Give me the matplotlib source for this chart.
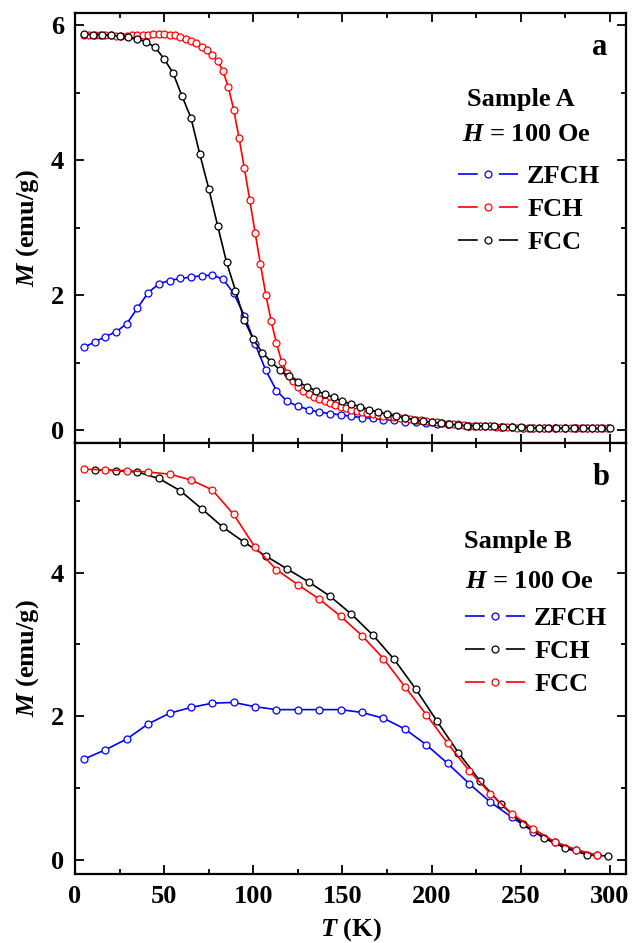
import matplotlib
matplotlib.use("Agg")
import matplotlib.pyplot as plt
from matplotlib.lines import Line2D
from matplotlib.ticker import MultipleLocator

plt.rcParams["font.family"] = "Liberation Serif"
plt.rcParams["font.weight"] = "bold"
plt.rcParams["mathtext.fontset"] = "custom"
plt.rcParams["mathtext.rm"] = "Liberation Serif:bold"
plt.rcParams["mathtext.it"] = "Liberation Serif:italic:bold"
plt.rcParams["lines.scale_dashes"] = False

# ---------------- data: panel a (Sample A) ----------------
T_a_zfch = [5, 11, 17, 23, 29, 35, 41, 47, 53, 59, 65, 71, 77, 83, 89, 95, 101,
            107, 113, 119, 125, 131, 137, 143, 149, 155, 161, 167, 173, 179, 185,
            191, 197, 203, 209, 215, 221, 227, 233, 239, 245, 251, 257, 263, 269,
            275, 281, 287, 293, 299]
M_a_zfch = [1.23, 1.31, 1.39, 1.46, 1.58, 1.81, 2.04, 2.17, 2.22, 2.25, 2.27, 2.29,
            2.30, 2.24, 2.03, 1.70, 1.28, 0.89, 0.59, 0.43, 0.36, 0.31, 0.27, 0.25,
            0.23, 0.21, 0.19, 0.18, 0.16, 0.15, 0.13, 0.12, 0.11, 0.10, 0.09, 0.08,
            0.07, 0.06, 0.06, 0.05, 0.05, 0.04, 0.04, 0.04, 0.04, 0.03, 0.03, 0.03,
            0.03, 0.03]

T_a_fch = [5, 8, 11, 14, 17, 20, 23, 26, 29, 32, 35, 38, 41, 44, 47, 50, 53, 56,
           59, 62, 65, 68, 71, 74, 77, 80, 83, 86, 89, 92, 95, 98, 101, 104, 107,
           110, 113, 116, 119, 122, 125, 128, 131, 134, 137, 140, 143, 146, 149,
           152, 155, 158, 161, 164, 167, 170, 173, 176, 179, 182, 185, 188, 191,
           194, 197, 200, 203, 206, 209, 212, 215, 218, 221, 224, 227, 230, 233,
           236, 239, 242, 245, 248, 251, 254, 257, 260, 263, 266, 269, 272, 275,
           278, 281, 284, 287, 290, 293, 296, 299]
M_a_fch = [5.86, 5.86, 5.86, 5.85, 5.85, 5.85, 5.84, 5.84, 5.84, 5.85, 5.85, 5.86,
           5.86, 5.87, 5.87, 5.87, 5.86, 5.85, 5.83, 5.80, 5.77, 5.73, 5.68, 5.63,
           5.56, 5.47, 5.32, 5.08, 4.75, 4.33, 3.88, 3.41, 2.93, 2.46, 2.01, 1.62,
           1.29, 1.01, 0.85, 0.73, 0.65, 0.59, 0.54, 0.50, 0.46, 0.43, 0.40, 0.37,
           0.35, 0.33, 0.31, 0.29, 0.27, 0.26, 0.24, 0.23, 0.22, 0.21, 0.20, 0.19,
           0.18, 0.17, 0.16, 0.15, 0.14, 0.13, 0.12, 0.11, 0.10, 0.09, 0.09, 0.08,
           0.07, 0.07, 0.06, 0.06, 0.06, 0.05, 0.05, 0.05, 0.05, 0.04, 0.04, 0.04,
           0.04, 0.04, 0.04, 0.03, 0.03, 0.03, 0.03, 0.03, 0.03, 0.03, 0.03, 0.03,
           0.03, 0.03, 0.03]

T_a_fcc = [5, 10, 15, 20, 25, 30, 35, 40, 45, 50, 55, 60, 65, 70, 75, 80, 85, 90,
           95, 100, 105, 110, 115, 120, 125, 130, 135, 140, 145, 150, 155, 160,
           165, 170, 175, 180, 185, 190, 195, 200, 205, 210, 215, 220, 225, 230,
           235, 240, 245, 250, 255, 260, 265, 270, 275, 280, 285, 290, 295, 300]
M_a_fcc = [5.87, 5.86, 5.86, 5.85, 5.84, 5.82, 5.80, 5.75, 5.67, 5.50, 5.29, 4.95,
           4.63, 4.09, 3.58, 3.03, 2.49, 2.07, 1.63, 1.35, 1.15, 1.02, 0.89, 0.80,
           0.72, 0.65, 0.59, 0.54, 0.49, 0.43, 0.39, 0.35, 0.31, 0.27, 0.24, 0.21,
           0.19, 0.16, 0.14, 0.12, 0.11, 0.09, 0.08, 0.07, 0.07, 0.06, 0.06, 0.05,
           0.05, 0.05, 0.04, 0.04, 0.04, 0.04, 0.03, 0.03, 0.03, 0.03, 0.03, 0.03]

# ---------------- data: panel b (Sample B) ----------------
T_b_zfch = [5, 17, 29, 41, 53, 65, 77, 89, 101, 113, 125, 137, 149, 161, 173, 185,
            197, 209, 221, 233, 245, 257, 269, 281, 293]
M_b_zfch = [1.40, 1.53, 1.68, 1.89, 2.04, 2.12, 2.18, 2.19, 2.13, 2.09, 2.09, 2.09,
            2.09, 2.05, 1.97, 1.82, 1.60, 1.34, 1.06, 0.80, 0.59, 0.39, 0.24, 0.13,
            0.06]

T_b_fch = [11, 23, 35, 47, 59, 71, 83, 95, 107, 119, 131, 143, 155, 167, 179, 191,
           203, 215, 227, 239, 251, 263, 275, 287, 299]
M_b_fch = [5.43, 5.42, 5.40, 5.31, 5.14, 4.89, 4.63, 4.42, 4.23, 4.05, 3.87, 3.67,
           3.42, 3.13, 2.79, 2.38, 1.93, 1.49, 1.10, 0.77, 0.50, 0.30, 0.16, 0.07,
           0.05]

T_b_fcc = [5, 17, 29, 41, 53, 65, 77, 89, 101, 113, 125, 137, 149, 161, 173, 185,
           197, 209, 221, 233, 245, 257, 269, 281, 293]
M_b_fcc = [5.44, 5.43, 5.42, 5.40, 5.37, 5.29, 5.15, 4.81, 4.35, 4.04, 3.83, 3.63,
           3.39, 3.12, 2.80, 2.41, 2.02, 1.62, 1.24, 0.92, 0.64, 0.43, 0.25, 0.14,
           0.06]

BLUE = "#0000ff"
RED = "#ff0000"
BLACK = "#000000"
FS = 19

fig = plt.figure(figsize=(6.32, 9.43), dpi=100)
ax_a = fig.add_axes([75 / 632, 1 - 443.3 / 943, 551 / 632, 430.3 / 943])
ax_b = fig.add_axes([75 / 632, 1 - 874 / 943, 551 / 632, 430.7 / 943], sharex=ax_a)


def curve(ax, T, M, color, z):
    ax.plot(T, M, color=color, lw=1.2, marker="o", ms=5, mfc="white",
            mec=color, mew=0.9, zorder=z)


def handle(color):
    return Line2D([], [], color=color, lw=1.2, marker="o", ms=5, mfc="white",
                  mec=color, mew=0.9, linestyle=(0, (14.2, 15.2)))


curve(ax_a, T_a_zfch, M_a_zfch, BLUE, 2)
curve(ax_a, T_a_fch, M_a_fch, RED, 3)
curve(ax_a, T_a_fcc, M_a_fcc, BLACK, 4)

curve(ax_b, T_b_zfch, M_b_zfch, BLUE, 2)
curve(ax_b, T_b_fch, M_b_fch, BLACK, 3)
curve(ax_b, T_b_fcc, M_b_fcc, RED, 4)

for ax in (ax_a, ax_b):
    ax.set_xlim(0, 309)
    ax.xaxis.set_major_locator(MultipleLocator(50))
    ax.xaxis.set_minor_locator(MultipleLocator(25))
    ax.yaxis.set_major_locator(MultipleLocator(2))
    ax.yaxis.set_minor_locator(MultipleLocator(1))
    ax.tick_params(which="both", direction="in", top=True, right=True, width=1.3,
                   labelsize=FS)
    ax.tick_params(which="major", length=6.5, pad=8)
    ax.tick_params(which="minor", length=3.3)
    for s in ax.spines.values():
        s.set_linewidth(1.6)
    ax.set_ylabel(r"$M$ (emu/g)", fontsize=FS, fontweight="bold")
    ax.yaxis.set_label_coords(-0.062, 0.5)

ax_a.set_ylim(-0.19, 6.18)
ax_b.set_ylim(-0.2, 5.8)
ax_a.tick_params(labelbottom=False)
ax_b.set_xlabel(r"$T$ (K)", fontsize=FS, fontweight="bold", labelpad=6)

# panel a annotations
ax_a.text(0.953, 0.903, "a", transform=ax_a.transAxes, fontsize=22,
          fontweight="bold", ha="center", va="baseline")
ax_a.text(0.809, 0.785, "Sample A", transform=ax_a.transAxes, fontsize=FS,
          fontweight="bold", ha="center", va="baseline")
ax_a.text(0.819, 0.703, r"$H$ = 100 Oe", transform=ax_a.transAxes, fontsize=FS,
          fontweight="bold", ha="center", va="baseline")
ax_a.legend([handle(BLUE), handle(RED), handle(BLACK)], ["ZFCH", "FCH", "FCC"],
            loc="upper left", bbox_to_anchor=(0.695, 0.648), frameon=False,
            fontsize=FS, handlelength=2.27, handletextpad=0.35, numpoints=1,
            labelspacing=0.36, borderpad=0, borderaxespad=0)

# panel b annotations
ax_b.text(0.955, 0.903, "b", transform=ax_b.transAxes, fontsize=22,
          fontweight="bold", ha="center", va="baseline")
ax_b.text(0.804, 0.757, "Sample B", transform=ax_b.transAxes, fontsize=FS,
          fontweight="bold", ha="center", va="baseline")
ax_b.text(0.824, 0.665, r"$H$ = 100 Oe", transform=ax_b.transAxes, fontsize=FS,
          fontweight="bold", ha="center", va="baseline")
ax_b.legend([handle(BLUE), handle(BLACK), handle(RED)], ["ZFCH", "FCH", "FCC"],
            loc="upper left", bbox_to_anchor=(0.708, 0.621), frameon=False,
            fontsize=FS, handlelength=2.27, handletextpad=0.35, numpoints=1,
            labelspacing=0.36, borderpad=0, borderaxespad=0)

fig.savefig("out.png", dpi=100)
